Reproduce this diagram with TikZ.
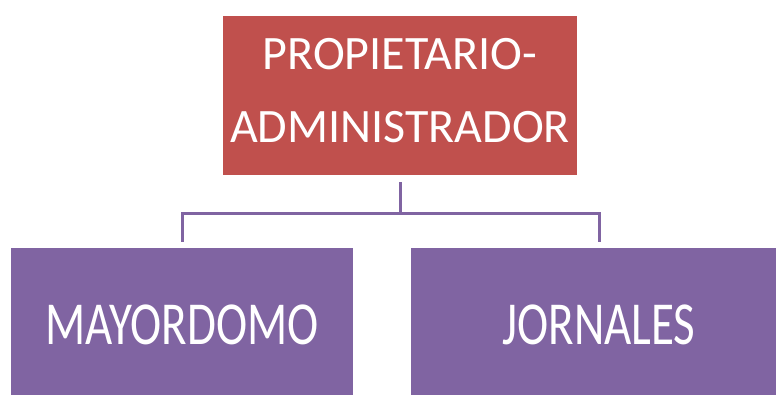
\documentclass[tikz,border=0pt]{standalone}
\usepackage{fontspec}
\setmainfont{Carlito}
\usetikzlibrary{positioning}
\definecolor{jefered}{HTML}{C0504D}
\definecolor{cargopurple}{HTML}{8064A2}

\begin{document}
\begin{tikzpicture}[x=1pt, y=1pt, font=\fontsize{48}{73}\selectfont]
  \tikzset{jefe/.style={fill=jefered, text=white, minimum width=354pt, minimum height=159pt, align=center, inner sep=0pt, text depth=11pt},
           cargo/.style={fill=cargopurple, text=white, minimum height=153pt, inner sep=0pt, font=\fontsize{47}{56}\selectfont},
           enlace/.style={draw=cargopurple, line width=3pt, shorten <=7pt, shorten >=6pt}}
  \useasboundingbox (0,0) rectangle (776,394);
  \clip (0,0) rectangle (776,394);
  % ---- owner on top ----
  \node[jefe] (propietario) at (400,298.5) {PROPIETARIO-\\ADMINISTRADOR};
  % ---- staff row, cut by the lower edge ----
  \node[cargo, minimum width=342pt] (mayordomo) at (182,69.5) {\scalebox{1}[1.3]{MAYORDOMO}};
  \node[cargo, minimum width=376pt] (jornales) at (599,69.5) {\scalebox{1}[1.3]{JORNALES}};
  % ---- connectors ----
  \draw[enlace] (propietario.south) -- ++(0,-38) -| (mayordomo.north);
  \draw[enlace] (propietario.south) -- ++(0,-38) -| (jornales.north);
\end{tikzpicture}
\end{document}
